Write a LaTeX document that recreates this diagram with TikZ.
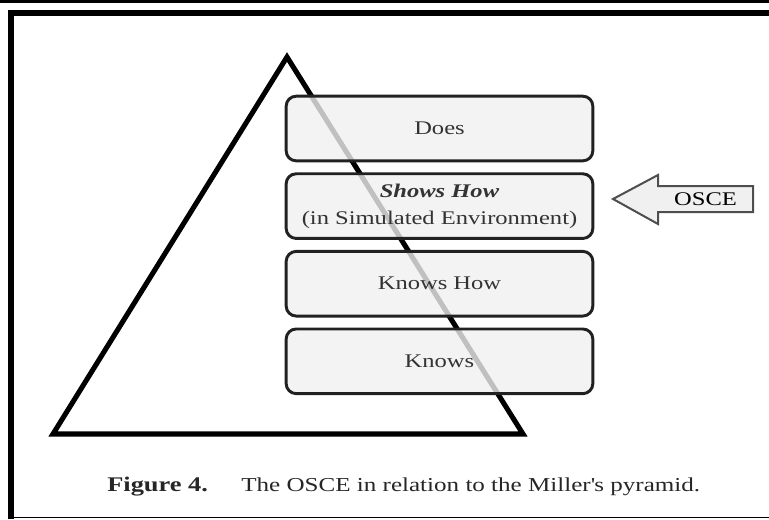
\documentclass[tikz,border=0pt]{standalone}
\usepackage{fontspec}
\setmainfont{Liberation Serif}[FakeStretch=1.27]
\usepackage{tikz}
\usepackage{xcolor}
\usetikzlibrary{positioning,calc}
\definecolor{boxgray}{rgb}{0.94,0.94,0.94}
\definecolor{edgegray}{rgb}{0.13,0.13,0.13}
\definecolor{textgray}{rgb}{0.2,0.2,0.2}

\begin{document}
\begin{tikzpicture}[x=0.75pt, y=-0.75pt, node distance=7.5pt, every node/.style={font=\fontsize{14.5}{20}\selectfont, text=textgray}]
\tikzstyle{level}=[draw=edgegray, line width=2.2pt, rounded corners=7.5pt, align=center, minimum width=230pt, minimum height=48.5pt, fill=boxgray, fill opacity=0.8, text opacity=1]
\tikzstyle{pointer}=[draw=edgegray!80, line width=1.5pt, fill=boxgray, line join=miter]
\useasboundingbox (0,0) rectangle (769,519);
% frame
\fill (0,0) rectangle (769,2.5);
\draw[line width=4.5pt] (11,519) -- (11,13) -- (769,13);
\draw[line width=1.2pt] (8,517.5) -- (769,517.5);
% pyramid
\coordinate (apex) at (287,57);
\coordinate (baseL) at (53,434);
\coordinate (baseR) at (523,434);
\draw[line width=3.8pt, line join=miter] (apex) -- (baseR) -- (baseL) -- cycle;
% levels
\node[level] (does) at (439.5,128.5) {Does};
\node[level, below=of does] (shows) {\textbf{\textit{Shows How}}\\(in Simulated Environment)};
\node[level, below=of shows] (knowshow) {Knows How};
\node[level, below=of knowshow] (knows) {Knows};
% OSCE arrow
\coordinate (tip) at (613,199);
\draw[pointer] (tip) -- (658,175) -- (658,186) -- (753,186) -- (753,212) -- (658,212) -- (658,224) -- cycle;
\node[font=\fontsize{14.5}{16}\selectfont, text=black] (osce) at (705.5,199) {OSCE};
% caption
\node[anchor=base west, inner sep=0pt, font=\fontsize{14.8}{20}\selectfont, text=black!85] (caption) at (107,491) {{\fontsize{15.6}{20}\selectfont\textbf{Figure 4.}}\hspace{25pt}The OSCE in relation to the Miller\textquotesingle s pyramid.};
\end{tikzpicture}
\end{document}
